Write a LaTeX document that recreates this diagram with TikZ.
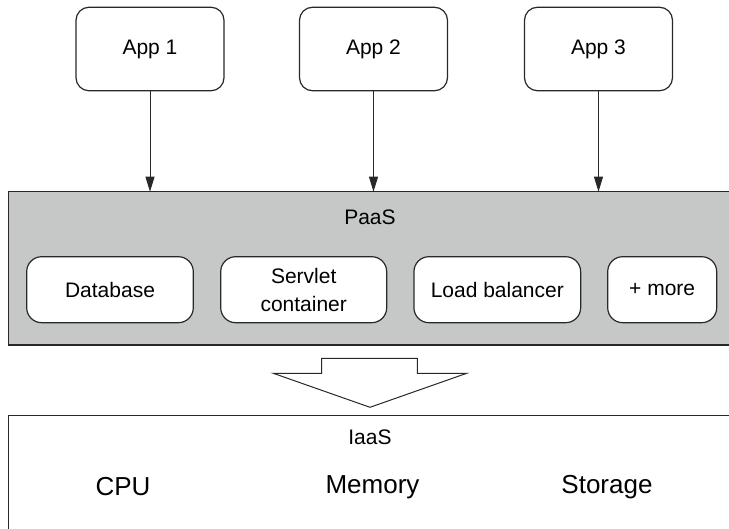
\documentclass[tikz,border=0pt]{standalone}
\usepackage{fontspec}
\setmainfont{Liberation Sans}
\usetikzlibrary{arrows.meta}
\definecolor{paasgray}{RGB}{198,200,200}
\definecolor{linec}{RGB}{40,40,40}
\begin{document}
\begin{tikzpicture}[x=1pt,y=-1pt,
  appbox/.style={draw=linec, line width=1.2pt, fill=white, rounded corners=13pt,
    minimum width=148pt, minimum height=83.5pt, inner sep=0pt, align=center,
    font=\fontsize{21}{25}\selectfont},
  svcbox/.style={draw=linec, line width=1.2pt, fill=white, rounded corners=15pt,
    minimum height=66pt, inner sep=0pt, align=center,
    font=\fontsize{21}{28}\selectfont},
  layer/.style={draw=linec, line width=1.2pt},
  lbl/.style={font=\fontsize{21}{25}\selectfont, inner sep=0pt},
  res/.style={font=\fontsize{26}{30}\selectfont, inner sep=0pt},
  conn/.style={draw=linec, line width=1pt, -{Triangle[length=15pt,width=9pt]}}
]
\useasboundingbox (0,0) rectangle (729,529);
% layers
\path[layer, fill=paasgray] (8.3,191.7) rectangle (740,345);
\path[layer, fill=white] (8.3,415.7) rectangle (740,540);
\node[lbl] (paas) at (370,217) {PaaS};
\node[lbl] (iaas) at (370,437) {IaaS};
\coordinate (paastop) at (0,191.7);
% apps
\node[appbox] (app1) at (150,49) {App 1};
\node[appbox] (app2) at (373.5,49) {App 2};
\node[appbox] (app3) at (598.5,49) {App 3};
% connectors
\draw[conn] (app1.south) -- (app1.south |- paastop);
\draw[conn] (app2.south) -- (app2.south |- paastop);
\draw[conn] (app3.south) -- (app3.south |- paastop);
% services
\node[svcbox, minimum width=166.6pt] (db) at (110,289.7) {Database};
\node[svcbox, minimum width=166pt] (servlet) at (303.7,289.7) {Servlet\\container};
\node[svcbox, minimum width=166.7pt] (lb) at (497.3,289.7) {Load balancer};
\node[svcbox, minimum width=109pt] (more) at (662.2,289.7) {+ more};
% block arrow
\draw[draw=linec, line width=1pt, fill=white, line join=miter]
  (321.7,358.3) -- (417.3,358.3) -- (417.3,373.3) -- (466.7,373.3) -- (370,407.3)
  -- (273.3,373.3) -- (321.7,373.3) -- cycle;
% resources
\node[res] (cpu) at (123,487) {CPU};
\node[res] (mem) at (372.5,487) {Memory};
\node[res] (stor) at (607,487) {Storage};
\end{tikzpicture}
\end{document}
